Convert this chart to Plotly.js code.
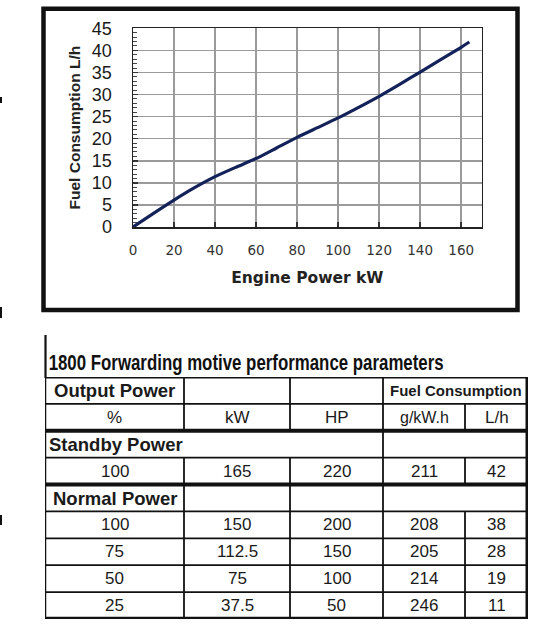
<!DOCTYPE html>
<html>
<head>
<meta charset="utf-8">
<script src="https://cdn.plot.ly/plotly-3.0.1.min.js"></script>
<style>html,body{margin:0;padding:0;background:#fff;}#chart{width:560px;height:625px;}</style>
</head>
<body>
<div id="chart"></div>
<script>
// ---- chart data ----
const curveKW = [0, 10, 20, 30, 40, 50, 60, 70, 80, 90, 100, 110, 120, 130, 140, 150, 160, 164];
const curveLh = [0, 3.1, 6.1, 8.9, 11.4, 13.5, 15.5, 17.9, 20.3, 22.5, 24.7, 27.1, 29.6, 32.3, 35.1, 37.9, 40.7, 41.9];
const xTitle = 'Engine Power kW';
const yTitle = 'Fuel Consumption L/h';

// ---- table data ----
const tableTitle = '1800 Forwarding motive performance parameters';
const headerTop = ['Output Power', 'Fuel Consumption'];
const unitLabels = ['%', 'kW', 'HP', 'g/kW.h', 'L/h'];
const sectionLabels = ['Standby Power', 'Normal Power'];
const standbyRow = ['100', '165', '220', '211', '42'];
const normalPct = ['100', '75', '50', '25'];
const normalKW = ['150', '112.5', '75', '37.5'];
const normalHP = ['200', '150', '100', '50'];
const normalGkWh = ['208', '205', '214', '246'];
const normalLh = ['38', '28', '19', '11'];

// ---- layout helpers ----
const W = 560, H = 625;
const px = x => x / W;
const py = y => 1 - y / H;
const colEdges = [0, 139, 245, 338, 420, 483];
const colMid = i => (colEdges[i] + colEdges[i + 1]) / 2;
const BLACK = '#111';

const traces = [{
  type: 'scatter', mode: 'lines', x: curveKW, y: curveLh,
  line: {color: '#14225a', width: 3.2, shape: 'spline', smoothing: 0.6},
  hoverinfo: 'skip', showlegend: false, xaxis: 'x', yaxis: 'y'
}];

// table text
const ann = [];
const F = 'Liberation Sans, Arial, sans-serif';
function cell(col, row, text, opts) {
  opts = opts || {};
  ann.push({
    xref: 'x2', yref: 'y2', x: opts.left ? colEdges[col] + 2 : (opts.span ? (colEdges[col] + colEdges[col + opts.span]) / 2 : colMid(col)),
    y: row + 0.5, xanchor: opts.left ? 'left' : 'center', yanchor: 'middle',
    text: text, showarrow: false,
    font: {family: F, size: opts.size || 17, color: '#1a1a1a', weight: opts.bold ? 'bold' : 'normal'}
  });
}
cell(0, 0, headerTop[0], {bold: true, size: 18.5});
cell(3, 0, headerTop[1], {bold: true, size: 15, span: 2});
unitLabels.forEach((t, i) => cell(i, 1, t, {size: i === 3 ? 16 : 17}));
cell(0, 2, sectionLabels[0], {bold: true, size: 18.5, left: true});
standbyRow.forEach((t, i) => cell(i, 3, t));
cell(0, 4, sectionLabels[1], {bold: true, size: 18.5});
const cols = [normalPct, normalKW, normalHP, normalGkWh, normalLh];
cols.forEach((arr, c) => arr.forEach((t, r) => cell(c, 5 + r, t)));

// dummy trace to activate table axes
traces.push({type: 'scatter', mode: 'markers', x: [0], y: [0], marker: {opacity: 0}, xaxis: 'x2', yaxis: 'y2', hoverinfo: 'skip', showlegend: false});

const TITLE_L = 48, TITLE_R = 443;
ann.push({
  xref: 'paper', yref: 'paper', x: px((TITLE_L + TITLE_R) / 2), y: py(363), xanchor: 'center', yanchor: 'middle',
  text: tableTitle, showarrow: false,
  font: {family: 'Liberation Sans, Arial, sans-serif', size: 21.5, color: '#111', weight: 'bold'}
});

// table lines
const shapes = [];
function hline(y, w) { shapes.push({type: 'line', xref: 'x2', yref: 'y2', x0: 0, x1: 483, y0: y, y1: y, line: {color: BLACK, width: w}}); }
function vline(x, ya, yb, w) { shapes.push({type: 'line', xref: 'x2', yref: 'y2', x0: x, x1: x, y0: ya, y1: yb, line: {color: BLACK, width: w}}); }
const hw = {0: 3, 2: 4, 4: 4, 9: 4.5};
for (let k = 0; k <= 9; k++) hline(k, hw[k] || 1.8);
vline(0, 0, 9, 2.5);
vline(483, 0, 9.06, 5);
[[0, 2], [3, 9]].forEach(s => { vline(139, s[0], s[1], 1.8); vline(245, s[0], s[1], 1.8); });
vline(338, 0, 9, 1.8);
[[1, 2], [3, 4], [5, 9]].forEach(s => vline(420, s[0], s[1], 1.8));
// line left of the table title
shapes.push({type: 'line', xref: 'paper', yref: 'paper', x0: px(45.5), x1: px(45.5), y0: py(335), y1: py(378), line: {color: BLACK, width: 2.2}});
// chart frame
shapes.push({type: 'rect', xref: 'paper', yref: 'paper', x0: px(43.5), x1: px(517.5), y0: py(8.7), y1: py(310), line: {color: BLACK, width: 4.5}, fillcolor: 'rgba(0,0,0,0)'});
// little marks at the left edge of the picture
[[97, 103], [307, 318], [515, 525]].forEach(s => shapes.push({type: 'line', xref: 'paper', yref: 'paper', x0: px(1), x1: px(1), y0: py(s[0]), y1: py(s[1]), line: {color: BLACK, width: 2}}));

const layout = {
  width: W, height: H, margin: {l: 0, r: 0, t: 0, b: 0},
  paper_bgcolor: '#fff', plot_bgcolor: '#fff', showlegend: false,
  xaxis: {
    domain: [px(133), px(481.7)], range: [0, 170], tick0: 0, dtick: 20,
    showgrid: true, gridcolor: '#9a9a9a', gridwidth: 1.6, zeroline: false,
    showline: true, mirror: true, linecolor: '#222', linewidth: 1.5,
    ticks: 'inside', ticklen: 5, tickcolor: '#333', tickwidth: 1.5,
    tickfont: {family: 'DejaVu Sans, Verdana, sans-serif', size: 13.5, color: '#333'},
    ticklabelstandoff: 10, anchor: 'y', fixedrange: true,
    title: {text: xTitle, standoff: 15, font: {family: 'DejaVu Sans, Verdana, sans-serif', size: 15.5, color: '#222', weight: 'bold'}}
  },
  yaxis: {
    domain: [py(227), py(28.3)], range: [0, 45], tick0: 0, dtick: 5,
    showgrid: true, gridcolor: '#9a9a9a', gridwidth: 1.6, zeroline: false,
    showline: true, mirror: true, linecolor: '#222', linewidth: 1.5,
    ticks: 'inside', ticklen: 5, tickcolor: '#333', tickwidth: 1.5,
    minor: {dtick: 1, ticks: 'inside', ticklen: 4, tickcolor: '#444', tickwidth: 1, showgrid: false},
    tickfont: {family: 'Liberation Sans, Arial, sans-serif', size: 18, color: '#1a1a1a'},
    ticklabelstandoff: 16, anchor: 'x', fixedrange: true,
    title: {text: yTitle, standoff: 7, font: {family: 'Liberation Sans, Arial, sans-serif', size: 15.5, color: '#222', weight: 'bold'}}
  },
  xaxis2: {domain: [px(45), px(528)], range: [0, 483], visible: false, anchor: 'y2', fixedrange: true},
  yaxis2: {domain: [py(619), py(377)], range: [9, 0], visible: false, anchor: 'x2', fixedrange: true},
  shapes: shapes, annotations: ann
};

Plotly.newPlot('chart', traces, layout, {displayModeBar: false, staticPlot: true}).then(gd => {
  // compress the title horizontally to the narrow width used in the reference
  gd.querySelectorAll('.annotation-text').forEach(t => {
    if (t.textContent === tableTitle) {
      t.setAttribute('textLength', String(TITLE_R - TITLE_L));
      t.setAttribute('lengthAdjust', 'spacingAndGlyphs');
    }
  });
});
</script>
</body>
</html>
